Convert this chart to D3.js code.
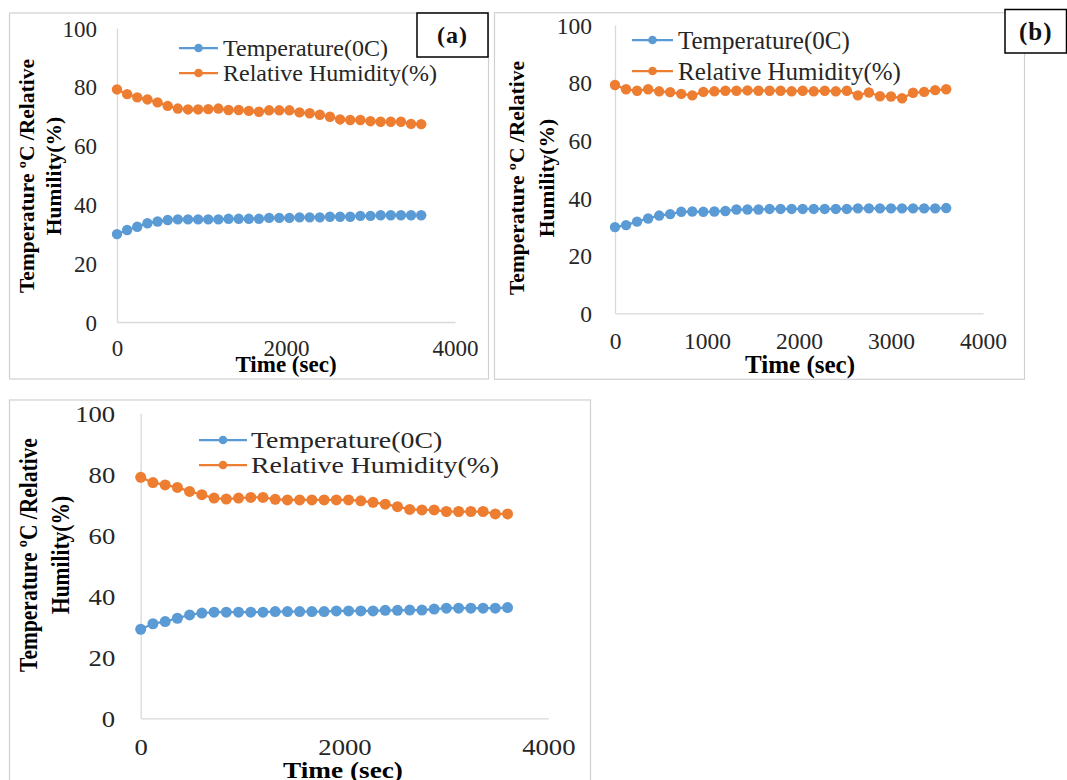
<!DOCTYPE html>
<html><head><meta charset="utf-8">
<script src="https://cdn.jsdelivr.net/npm/d3@7"></script>
<style>body{margin:0;background:#fff} svg{display:block}</style>
</head><body><svg id="chart" width="1067" height="780"></svg>
<script>
// ---------------- data ----------------
const timeSec = [0,120,240,360,480,600,720,840,960,1080,1200,1320,1440,1560,1680,1800,1920,2040,2160,2280,2400,2520,2640,2760,2880,3000,3120,3240,3360,3480,3600];

const tempA = [29.9,31.3,32.4,33.6,34.2,34.7,34.9,34.9,34.9,34.9,34.9,35.1,35.1,35.1,35.1,35.4,35.4,35.4,35.6,35.6,35.6,35.8,35.8,35.8,36.1,36.1,36.3,36.3,36.3,36.3,36.3];
const humA  = [79.1,77.5,76.4,75.7,74.7,73.5,72.6,72.3,72.3,72.4,72.6,72.1,72.1,71.8,71.5,72.0,72.0,72.0,71.3,71.0,70.5,69.8,68.9,68.7,68.7,68.3,68.1,68.1,68.1,67.4,67.3];

const tempB = [29.9,30.6,31.8,32.9,33.9,34.4,35.2,35.3,35.2,35.3,35.5,36.0,36.0,36.0,36.2,36.2,36.2,36.2,36.2,36.2,36.2,36.2,36.4,36.4,36.4,36.4,36.4,36.4,36.4,36.4,36.5];
const humB  = [79.2,77.7,77.2,77.7,77.0,76.7,76.1,75.6,76.8,77.0,77.2,77.2,77.3,77.2,77.2,77.2,77.0,77.2,77.0,77.2,77.0,77.2,75.6,76.6,75.3,75.2,74.6,76.5,76.8,77.4,77.7];

const tempC = [29.2,31.0,31.7,32.8,33.9,34.5,34.8,34.8,34.8,34.8,34.8,35.0,35.0,35.0,35.0,35.0,35.2,35.2,35.2,35.2,35.4,35.4,35.5,35.5,35.8,36.1,36.1,36.1,36.1,36.1,36.3];
const humC  = [79.0,77.3,76.5,75.7,74.4,73.3,72.2,71.9,72.2,72.4,72.4,71.8,71.6,71.6,71.6,71.6,71.6,71.6,71.3,70.8,70.2,69.4,68.5,68.3,68.3,67.8,67.8,67.8,67.8,67.0,67.0];

const xTicksAC = [0,2000,4000];
const xTicksB  = [0,1000,2000,3000,4000];
const yTicks   = [0,20,40,60,80,100];
const seriesNames = ["Temperature(0C)","Relative Humidity(%)"];
const yTitleLines = ["Temperature ºC /Relative","Humility(%)"];
const xTitleText = "Time (sec)";
const panelTags = ["(a)","(b)",null];

// ---------------- layout / style ----------------
const colors = ["#5B9BD5","#ED7D31"];
const FONT = "'Liberation Serif','Times New Roman',serif";
const svg = d3.select("#chart");
const fmt = d3.format("d");

const panels = [
  {tag:panelTags[0], temp:tempA, hum:humA, xt:xTicksAC, sx:1,
   border:[9.5,13,479,366], x0:117, x1:455, yt:28, yb:322,
   tickFont:23, yPad:20, xLabOff:26, yTitleX:[26,53], yTitleY:176, yTitleFont:21.5,
   xTitle:[286,364], xTitleFont:23, legX:[179,218,223], legY:[48,73], legFont:24,
   box:[417,13,71,44], boxFont:24, r:5.2},
  {tag:panelTags[1], temp:tempB, hum:humB, xt:xTicksB, sx:1,
   border:[494.5,12.7,530,366.6], x0:615, x1:983, yt:25, yb:313.3,
   tickFont:23.5, yPad:23, xLabOff:27, yTitleX:[516,546], yTitleY:178, yTitleFont:21.5,
   xTitle:[800,364], xTitleFont:25, legX:[632,673,678], legY:[40,71], legFont:25,
   box:[1005,9.5,61.5,43.5], boxFont:25, r:5.2},
  {tag:panelTags[2], temp:tempC, hum:humC, xt:xTicksAC, sx:1.16,
   border:[9.5,400,581,420], x0:140.7, x1:548.3, yt:413.3, yb:718.3,
   tickFont:23, yPad:25.5, xLabOff:28.5, yTitleX:[28,60], yTitleY:555, yTitleFont:21.5,
   xTitle:[343,770], xTitleFont:23.5, legX:[199,247,251], legY:[440,465], legFont:24,
   box:null, r:5.5}
];

function label(g, s, x, y, o){
  const sx = o.sx || 1;
  const tr = o.rot ? `translate(${x},${y}) rotate(-90) scale(1,${sx})`
                   : `translate(${x},${y}) scale(${sx},1)`;
  return g.append("text").attr("transform", tr).attr("dy","0.35em")
    .attr("text-anchor", o.anchor || "middle")
    .attr("font-family", FONT).attr("font-size", o.size)
    .attr("font-weight", o.bold ? "bold" : "normal")
    .attr("letter-spacing", o.ls || 0)
    .attr("fill", o.fill || "#262626").text(s);
}

panels.forEach(p => {
  const g = svg.append("g");
  const [bx,by,bw,bh] = p.border;
  g.append("rect").attr("x",bx).attr("y",by).attr("width",bw).attr("height",bh)
    .attr("fill","#fff").attr("stroke","#d0d0d0").attr("stroke-width",1.2);

  const x = d3.scaleLinear().domain([0,4000]).range([p.x0,p.x1]);
  const y = d3.scaleLinear().domain([0,100]).range([p.yb,p.yt]);

  // axes (lines via d3-axis, labels styled afterwards)
  const ya = g.append("g").attr("transform",`translate(${p.x0},0)`)
    .call(d3.axisLeft(y).tickValues(yTicks).tickFormat(fmt).tickSize(0).tickPadding(p.yPad / p.sx));
  const xa = g.append("g").attr("transform",`translate(0,${p.yb})`)
    .call(d3.axisBottom(x).tickValues(p.xt).tickFormat(fmt).tickSize(0));
  [ya,xa].forEach(a => {
    a.select(".domain").attr("stroke","#d9d9d9").attr("stroke-width",1.3);
    a.selectAll("text").attr("font-family",FONT).attr("font-size",p.tickFont)
      .attr("fill","#262626");
  });
  ya.selectAll(".tick text").attr("dy","0.35em")
    .attr("transform",`scale(${p.sx},1)`);
  xa.selectAll(".tick text").attr("y",p.xLabOff).attr("dy","0.35em")
    .attr("transform",`scale(${p.sx},1)`);

  // series
  const series = [p.temp, p.hum];
  series.forEach((vals,i) => {
    const pts = timeSec.map((t,k) => [x(t), y(vals[k])]);
    g.append("path").attr("d", d3.line()(pts)).attr("fill","none")
      .attr("stroke",colors[i]).attr("stroke-width",2.25);
    g.selectAll(null).data(pts).join("circle")
      .attr("cx",d=>d[0]).attr("cy",d=>d[1]).attr("r",p.r).attr("fill",colors[i]);
  });

  // legend
  seriesNames.forEach((nm,i) => {
    const ly = p.legY[i];
    g.append("line").attr("x1",p.legX[0]).attr("x2",p.legX[1]).attr("y1",ly).attr("y2",ly)
      .attr("stroke",colors[i]).attr("stroke-width",2.25);
    g.append("circle").attr("cx",(p.legX[0]+p.legX[1])/2).attr("cy",ly).attr("r",4.3)
      .attr("fill",colors[i]);
    label(g, nm, p.legX[2], ly, {size:p.legFont, anchor:"start", sx:p.sx});
  });

  // titles
  yTitleLines.forEach((ln,i) => {
    label(g, ln, p.yTitleX[i], p.yTitleY, {size:p.yTitleFont, bold:true, rot:true, sx:p.sx, fill:"#000"});
  });
  label(g, xTitleText, p.xTitle[0], p.xTitle[1], {size:p.xTitleFont, bold:true, sx:p.sx, fill:"#000"});

  // panel tag box
  if (p.box){
    const [qx,qy,qw,qh] = p.box;
    g.append("rect").attr("x",qx).attr("y",qy).attr("width",qw).attr("height",qh)
      .attr("fill","#fff").attr("stroke","#000").attr("stroke-width",1.5);
    label(g, p.tag, qx + qw/2, qy + qh/2, {size:p.boxFont, bold:true, fill:"#111", ls:1});
  }
});
</script>
</body></html>
